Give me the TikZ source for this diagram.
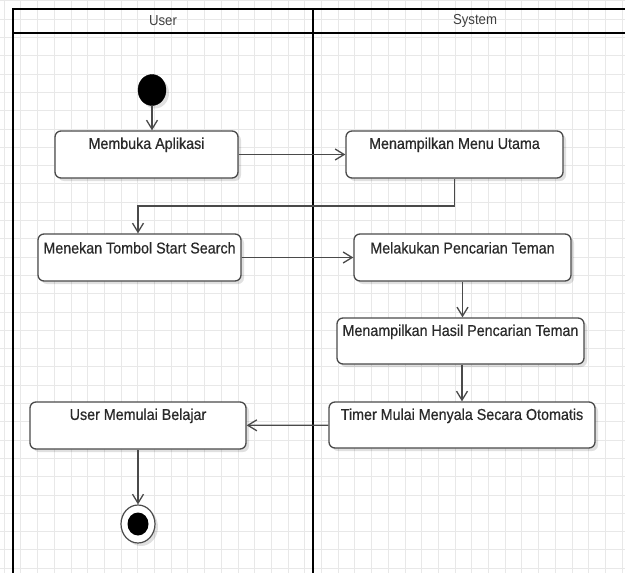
\documentclass[tikz,border=0pt]{standalone}
\usepackage{fontspec}
\setmainfont{Liberation Sans}[FakeStretch=0.91]
\newfontfamily\actfont{Liberation Sans}[FakeStretch=0.91, FakeBold=0.6]
\usetikzlibrary{arrows.meta,shadows,calc,shapes.geometric}
\definecolor{boxc}{HTML}{4A4A4A}
\definecolor{txtc}{HTML}{2A2A2A}
\definecolor{gridc}{HTML}{E8E8E8}
\tikzset{
  gridline/.style={draw=gridc, line width=0.8pt},
  lane/.style={draw=black, line width=1.8pt},
  hdr/.style={font=\fontsize{14.5}{16}\selectfont, text=black!75, inner sep=0pt},
  act/.style={draw=boxc, line width=1.3pt, rounded corners=6pt, fill=white, inner sep=0pt,
     drop shadow={shadow xshift=3pt, shadow yshift=-3pt, fill=black, opacity=0.12}},
  acttxt/.style={font=\actfont\fontsize{15.7}{18}\selectfont, text=txtc, inner sep=0pt},
  flow/.style={draw=boxc, line width=1.3pt, -{Straight Barb[length=9pt,width=11pt,line width=1.3pt]}},
  startn/.style={ellipse, fill=black, draw=black, inner sep=0pt, minimum width=28pt, minimum height=31pt,
     drop shadow={shadow xshift=3pt, shadow yshift=-3pt, fill=black, opacity=0.12}},
  finaln/.style={ellipse, fill=white, draw=boxc, line width=1.2pt, inner sep=0pt, minimum width=34pt, minimum height=38pt,
     drop shadow={shadow xshift=3pt, shadow yshift=-3pt, fill=black, opacity=0.12}},
  finalin/.style={ellipse, fill=black, inner sep=0pt, minimum width=21pt, minimum height=23pt}
}
\begin{document}
\begin{tikzpicture}[x=1pt,y=-1pt]
\useasboundingbox (0,0) rectangle (625,573);
\clip (0,0) rectangle (625,573);
\fill[white] (0,0) rectangle (625,573);
% grid
\foreach \i in {0,...,37} \draw[gridline] (4.1+\i*16.7,0) -- (4.1+\i*16.7,573);
\foreach \j in {0,...,31} \draw[gridline] (0,0.8+\j*18.3) -- (625,0.8+\j*18.3);
% swimlanes
\draw[lane] (13,590) -- (13,9) -- (640,9);
\draw[lane] (13,33) -- (640,33);
\draw[lane] (313,9) -- (313,590);
\node[hdr] (hU) at (163,21) {User};
\node[hdr] (hS) at (475,21) {System};
% start
\node[startn] (s) at (152,90) {};
% activities
\node[act, minimum width=183pt, minimum height=47pt] (a1) at (146.5,154.5) {};
\node[acttxt] (a1t) at ($(a1.north)+(0,14.5)$) {Membuka Aplikasi};
\node[act, minimum width=217pt, minimum height=47pt] (a2) at (454.5,154.5) {};
\node[acttxt] (a2t) at ($(a2.north)+(0,14.5)$) {Menampilkan Menu Utama};
\node[act, minimum width=203pt, minimum height=47pt] (a3) at (139.5,257.5) {};
\node[acttxt] (a3t) at ($(a3.north)+(0,14.5)$) {Menekan Tombol Start Search};
\node[act, minimum width=217pt, minimum height=47pt] (a4) at (462.5,257.5) {};
\node[acttxt] (a4t) at ($(a4.north)+(0,14.5)$) {Melakukan Pencarian Teman};
\node[act, minimum width=247pt, minimum height=46pt] (a5) at (460.5,341) {};
\node[acttxt] (a5t) at ($(a5.north)+(0,14.5)$) {Menampilkan Hasil Pencarian Teman};
\node[act, minimum width=266pt, minimum height=46pt] (a6) at (462,425) {};
\node[acttxt] (a6t) at ($(a6.north)+(0,14.5)$) {Timer Mulai Menyala Secara Otomatis};
\node[act, minimum width=216pt, minimum height=47pt] (a7) at (138,425.5) {};
\node[acttxt] (a7t) at ($(a7.north)+(0,14.5)$) {User Memulai Belajar};
% final
\node[finaln] (f) at (138,524) {};
\node[finalin] (fi) at (f) {};
% flows
\coordinate (c1) at (138,206);
\draw[flow] (s.south) -- (s.south |- a1.north);
\draw[flow] (a1) -- (a2);
\draw[flow] (a2.south) |- (c1) -- (c1 |- a3.north);
\draw[flow] (a3) -- (a4);
\draw[flow] (a4.south) -- (a4.south |- a5.north);
\draw[flow] (a6.north |- a5.south) -- (a6.north);
\draw[flow] (a6) -- (a7);
\draw[flow] (a7.south) -- (f.north);
\end{tikzpicture}
\end{document}
